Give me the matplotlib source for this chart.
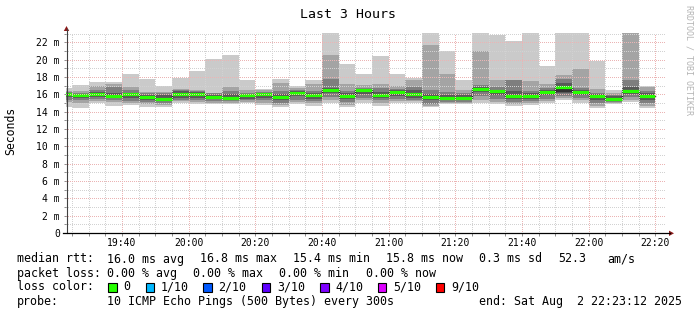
import matplotlib
matplotlib.use("Agg")
import matplotlib.pyplot as plt
from matplotlib.lines import Line2D
from matplotlib.patches import Rectangle, Polygon

W, H, DPI = 697, 315, 100

# ---------------- data ----------------
title = "Last 3 Hours"
first_bin = "19:20"          # start of first 5-minute bin
bin_minutes = 5
view_start = "19:23:12"
view_end = "22:23:12"

# sorted ping values per bin (ms), p1 = fastest ... p10 = slowest
p1 = [14.5, 14.45, 14.95, 14.7, 14.75, 14.55, 14.55, 15.0, 14.9, 14.85, 14.9, 15.0, 14.75, 14.55, 14.9, 14.7, 15.0, 14.55,
      15.0, 14.7, 15.0, 15.0, 14.55, 14.85, 14.85, 15.05, 14.85, 14.7, 14.8, 14.95, 15.35, 15.05, 14.45, 14.9, 15.15, 14.45]
p2 = [15.1, 15.0, 15.2, 15.1, 15.0, 14.85, 14.8, 15.2, 15.1, 15.0, 15.05, 15.15, 15.0, 14.8, 15.1, 14.95, 15.3, 14.8,
      15.3, 15.0, 15.2, 15.2, 14.7, 14.95, 14.95, 15.4, 15.1, 14.9, 15.0, 15.2, 15.55, 15.3, 14.7, 15.0, 15.4, 14.7]
p3 = [15.4, 15.3, 15.5, 15.3, 15.2, 15.1, 15.0, 15.4, 15.35, 15.2, 15.2, 15.3, 15.3, 15.0, 15.4, 15.2, 15.7, 15.1,
      15.6, 15.3, 15.5, 15.4, 14.9, 15.1, 15.1, 15.8, 15.5, 15.1, 15.2, 15.5, 15.8, 15.6, 15.0, 15.1, 15.7, 15.0]
p4 = [15.7, 15.6, 15.7, 15.55, 15.6, 15.4, 15.2, 15.6, 15.6, 15.45, 15.4, 15.5, 15.6, 15.4, 15.8, 15.5, 16.1, 15.5,
      16.0, 15.6, 15.8, 15.6, 15.3, 15.3, 15.3, 16.3, 15.9, 15.5, 15.5, 15.9, 16.1, 15.9, 15.4, 15.25, 16.0, 15.4]
p5 = [16.0, 15.85, 15.95, 15.75, 15.95, 15.65, 15.4, 15.95, 15.95, 15.7, 15.55, 15.85, 15.95, 15.7, 16.15, 15.85, 16.4, 15.8,
      16.4, 15.9, 16.2, 15.95, 15.65, 15.55, 15.5, 16.6, 16.3, 15.8, 15.75, 16.2, 16.3, 16.2, 15.7, 15.4, 16.3, 15.75]
p6 = [16.1, 15.95, 16.05, 15.85, 16.05, 15.75, 15.55, 16.05, 16.05, 15.8, 15.65, 15.95, 16.05, 15.8, 16.25, 15.95, 16.5, 15.9,
      16.5, 16.0, 16.3, 16.05, 15.75, 15.65, 15.6, 16.7, 16.4, 15.9, 15.85, 16.3, 16.9, 16.3, 15.8, 15.55, 16.45, 15.85]
p7 = [16.2, 16.0, 16.3, 16.2, 16.2, 15.9, 15.9, 16.35, 16.25, 15.95, 16.0, 16.0, 16.15, 16.0, 16.35, 16.1, 16.7, 16.1,
      16.55, 16.3, 16.45, 16.55, 16.0, 15.95, 15.9, 16.9, 16.5, 16.4, 16.1, 16.5, 17.3, 16.5, 16.0, 15.8, 16.9, 16.1]
p8 = [16.3, 16.2, 16.5, 16.85, 16.5, 16.1, 16.1, 16.5, 16.4, 16.1, 16.4, 16.2, 16.3, 16.4, 16.5, 16.4, 17.8, 16.4,
      16.7, 16.7, 16.6, 16.9, 16.45, 16.3, 16.1, 17.1, 16.8, 17.6, 16.4, 16.7, 17.75, 16.7, 16.2, 15.95, 17.7, 16.4]
p9 = [16.4, 16.4, 16.95, 17.2, 16.85, 16.3, 16.3, 16.6, 16.55, 16.2, 16.85, 16.45, 16.45, 17.35, 16.75, 17.2, 20.5, 17.15,
      17.1, 17.2, 16.95, 17.6, 21.75, 18.3, 16.45, 21.0, 17.7, 17.7, 17.5, 17.2, 18.25, 18.95, 16.65, 16.1, 23.5, 16.85]
p10 = [16.7, 17.1, 17.45, 17.4, 18.4, 17.8, 16.95, 17.85, 18.75, 20.1, 20.5, 17.7, 16.65, 17.8, 17.0, 17.7, 23.5, 19.45,
       18.4, 20.45, 18.3, 17.85, 23.5, 21.05, 17.7, 23.5, 22.9, 22.15, 23.5, 19.3, 23.5, 23.5, 19.9, 16.55, 23.6, 17.0]
median = [16.05, 15.9, 16.0, 15.8, 16.0, 15.7, 15.45, 16.0, 16.0, 15.75, 15.6, 15.9, 16.0, 15.75, 16.2, 15.9, 16.45, 15.85,
          16.45, 15.95, 16.25, 16.0, 15.7, 15.6, 15.55, 16.65, 16.35, 15.8, 15.8, 16.25, 16.84, 16.26, 15.78, 15.45, 16.35, 15.8]

xtick_labels = ["19:40", "20:00", "20:20", "20:40", "21:00", "21:20", "21:40", "22:00", "22:20"]
ytick_values = [0, 2, 4, 6, 8, 10, 12, 14, 16, 18, 20, 22]
ytick_labels = ["0", "2 m", "4 m", "6 m", "8 m", "10 m", "12 m", "14 m", "16 m", "18 m", "20 m", "22 m"]
y_max = 23.08

stat_rtt = ["median rtt:", "16.0 ms avg", "16.8 ms max", "15.4 ms min", "15.8 ms now", "0.3 ms sd", "52.3", "am/s"]
stat_loss = ["packet loss:", "0.00 % avg", "0.00 % max", "0.00 % min", "0.00 % now"]
loss_labels = ["0", "1/10", "2/10", "3/10", "4/10", "5/10", "9/10"]
loss_colors = ["#26ff00", "#00b8ff", "#0059ff", "#5e00ff", "#7e00ff", "#dd00ff", "#ff0000"]
probe_text = ["probe:", "10 ICMP Echo Pings (500 Bytes) every 300s", "end: Sat Aug  2 22:23:12 2025"]
watermark = "RRDTOOL / TOBI OETIKER"
ylabel = "Seconds"

# ---------------- helpers ----------------
def to_min(s):
    parts = [float(v) for v in s.split(":")]
    return parts[0] * 60 + parts[1] + (parts[2] / 60 if len(parts) > 2 else 0)

def fx(x):
    return x / W

def fy(y):
    return 1 - y / H

MONO = "DejaVu Sans Mono"
smoke_colors = ["#cacaca", "#a4a4a4", "#7e7e7e", "#585858", "#323232"]

fig = plt.figure(figsize=(W / DPI, H / DPI), dpi=DPI)
fig.patch.set_facecolor("white")

ax = fig.add_axes([fx(66), fy(233), 600 / W, 200 / H])
ax.set_facecolor("white")
x0, x1 = to_min(view_start), to_min(view_end)
ax.set_xlim(x0, x1)
ax.set_ylim(0, y_max)

n = len(median)
starts = [to_min(first_bin) + bin_minutes * i for i in range(n)]
lows = [p1, p2, p3, p4, p5]
highs = [p10, p9, p8, p7, p6]
for lo, hi, c in zip(lows, highs, smoke_colors):
    ax.bar(starts, [h - l for h, l in zip(hi, lo)], bottom=lo, width=bin_minutes, align="edge",
           color=c, linewidth=0, zorder=1)

# median: dark step line + loss-colored bars
ax.step(starts + [starts[-1] + bin_minutes], median + [median[-1]], where="post",
        color="#202020", lw=1.0, zorder=1.5)
ax.hlines(median, starts, [s + bin_minutes for s in starts], color=loss_colors[0], lw=2.3,
          zorder=2, capstyle="butt")

# grid
maj_x = [to_min(t) for t in xtick_labels]
ax.set_xticks(maj_x, xtick_labels)
ax.set_xticks([to_min(first_bin) + 5 * i for i in range(1, 37)], minor=True)
ax.set_yticks(ytick_values, ytick_labels)
ax.set_yticks([i for i in range(1, 24, 2)], minor=True)
ax.set_axisbelow(False)
ax.grid(which="major", color="#ebb4b4", lw=0.72, linestyle=(0, (1, 1.6)), zorder=5)
ax.grid(which="minor", color="#d2d2d2", lw=0.72, linestyle=(0, (1, 1.6)), zorder=5)
for t in ax.xaxis.get_major_ticks() + ax.xaxis.get_minor_ticks() + \
        ax.yaxis.get_major_ticks() + ax.yaxis.get_minor_ticks():
    t.gridline.set_antialiased(False)
for s in ax.spines.values():
    s.set_visible(False)
ax.tick_params(axis="both", which="both", length=1.8, width=0.72, color="#909090", direction="out")
ax.tick_params(axis="y", which="major", pad=2.6, labelsize=7, labelcolor="black")
ax.tick_params(axis="x", which="major", pad=1.6, labelsize=7, labelcolor="black")
for lab in ax.get_xticklabels() + ax.get_yticklabels():
    lab.set_family(MONO)

# axis lines + arrows
axis_col = "#404040"
arrow_col = "#8b1a1a"
fig.add_artist(Line2D([fx(66.5), fx(66.5)], [fy(233), fy(29)], color=axis_col, lw=0.8))
fig.add_artist(Line2D([fx(63), fx(670)], [fy(233.3), fy(233.3)], color="black", lw=0.9))
fig.add_artist(Polygon([[fx(66.5), fy(26)], [fx(63.8), fy(31)], [fx(69.2), fy(31)]], closed=True,
                       color=arrow_col, lw=0))
fig.add_artist(Polygon([[fx(674), fy(233.3)], [fx(669), fy(230.6)], [fx(669), fy(236)]], closed=True,
                       color=arrow_col, lw=0))

# title, y label, watermark
fig.text(fx(348), fy(14), title, ha="center", va="center", family=MONO, fontsize=9.5)
fig.text(fx(10.5), fy(131), ylabel, ha="center", va="center", rotation=90, family=MONO, fontsize=8.3)
fig.text(fx(689), fy(60), watermark, ha="center", va="center", rotation=270, family=MONO,
         fontsize=6.0, color="#b4b4b4")

# legend text
FS = 8.4
rtt_x = [16.7, 107.3, 200, 293.3, 385.7, 479.3, 558.3, 607.3]
for s, x in zip(stat_rtt, rtt_x):
    fig.text(fx(x), fy(259), s, ha="left", va="center", family=MONO, fontsize=FS)
loss_x = [16.7, 107.3, 193.3, 279.3, 365.7]
for s, x in zip(stat_loss, loss_x):
    fig.text(fx(x), fy(273.3), s, ha="left", va="center", family=MONO, fontsize=FS)
fig.text(fx(16.7), fy(287), "loss color:", ha="left", va="center", family=MONO, fontsize=FS)
box_x = [108.3, 145.7, 203.3, 261.7, 320, 377.7, 435.7]
for lab, c, x in zip(loss_labels, loss_colors, box_x):
    fig.add_artist(Rectangle((fx(x), fy(292)), 8.5 / W, 9.5 / H, facecolor=c, edgecolor="black", lw=0.8))
    fig.text(fx(x + 15.3), fy(287), lab, ha="left", va="center", family=MONO, fontsize=FS)
probe_x = [16.7, 107.3, 478.7]
for s, x in zip(probe_text, probe_x):
    fig.text(fx(x), fy(301.3), s, ha="left", va="center", family=MONO, fontsize=FS)

fig.savefig("out.png", dpi=DPI, facecolor="white")
